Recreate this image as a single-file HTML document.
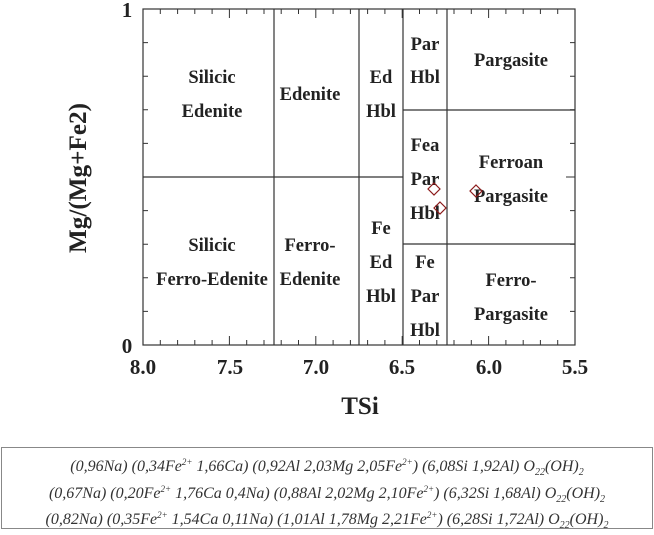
<!DOCTYPE html>
<html><head><style>
body{margin:0;background:#fff;width:654px;height:535px;overflow:hidden}
</style></head><body>
<svg width="654" height="535" xmlns="http://www.w3.org/2000/svg" style="position:absolute;left:0;top:0">
<g stroke="#333" stroke-width="1.2" fill="none">
<rect x="143" y="9" width="432" height="336"/>
<line x1="274" y1="9" x2="274" y2="345"/>
<line x1="359" y1="9" x2="359" y2="345"/>
<line x1="403" y1="9" x2="403" y2="345"/>
<line x1="447" y1="9" x2="447" y2="345"/>
<line x1="143" y1="177" x2="403" y2="177"/>
<line x1="403" y1="110" x2="575" y2="110"/>
<line x1="403" y1="244" x2="575" y2="244"/>
</g>
<g stroke="#333" stroke-width="1">
<path d="M160.3 9v5M177.6 9v5M194.8 9v5M212.1 9v5M229.4 9v9M246.7 9v5M264 9v5M281.2 9v5M298.5 9v5M315.8 9v9M333.1 9v5M350.4 9v5M367.6 9v5M384.9 9v5M402.2 9v9M419.5 9v5M436.8 9v5M454 9v5M471.3 9v5M488.6 9v9M505.9 9v5M523.2 9v5M540.4 9v5M557.7 9v5"/>
<path d="M160.3 345v-5M177.6 345v-5M194.8 345v-5M212.1 345v-5M229.4 345v-9M246.7 345v-5M264 345v-5M281.2 345v-5M298.5 345v-5M315.8 345v-9M333.1 345v-5M350.4 345v-5M367.6 345v-5M384.9 345v-5M402.2 345v-9M419.5 345v-5M436.8 345v-5M454 345v-5M471.3 345v-5M488.6 345v-9M505.9 345v-5M523.2 345v-5M540.4 345v-5M557.7 345v-5"/>
<path d="M143 42.6h5M143 76.2h5M143 109.8h5M143 143.4h5M143 177h9M143 210.6h5M143 244.2h5M143 277.8h5M143 311.4h5"/>
<path d="M575 42.6h-5M575 76.2h-5M575 109.8h-5M575 143.4h-5M575 177h-9M575 210.6h-5M575 244.2h-5M575 277.8h-5M575 311.4h-5"/>
</g>
<g font-family="Liberation Serif, serif" font-weight="bold" font-size="18.5" fill="#222" text-anchor="middle">
<text x="212" y="83">Silicic</text><text x="212" y="117">Edenite</text>
<text x="310" y="100">Edenite</text>
<text x="381" y="83">Ed</text><text x="381" y="117">Hbl</text>
<text x="425" y="50">Par</text><text x="425" y="83">Hbl</text>
<text x="511" y="66">Pargasite</text>
<text x="212" y="251">Silicic</text><text x="212" y="285">Ferro-Edenite</text>
<text x="310" y="251">Ferro-</text><text x="310" y="285">Edenite</text>
<text x="381" y="234">Fe</text><text x="381" y="268">Ed</text><text x="381" y="302">Hbl</text>
<text x="425" y="151">Fea</text><text x="425" y="185">Par</text><text x="425" y="219">Hbl</text>
<text x="511" y="168">Ferroan</text><text x="511" y="202">Pargasite</text>
<text x="425" y="268">Fe</text><text x="425" y="302">Par</text><text x="425" y="336">Hbl</text>
<text x="511" y="286">Ferro-</text><text x="511" y="320">Pargasite</text>
</g>
<g fill="none" stroke="#8b1a1a" stroke-width="1.2">
<path d="M434 183l6 6-6 6-6-6z"/>
<path d="M440 202l6 6-6 6-6-6z"/>
<path d="M476 185l6 6-6 6-6-6z"/>
</g>
<g font-family="Liberation Serif, serif" font-weight="bold" font-size="21" fill="#222" text-anchor="middle">
<text x="143" y="374">8.0</text><text x="230" y="374">7.5</text><text x="316" y="374">7.0</text>
<text x="402" y="374">6.5</text><text x="489" y="374">6.0</text><text x="575" y="374">5.5</text>
<text x="127" y="17">1</text><text x="127" y="353">0</text>
<text x="360" y="414" font-size="25">TSi</text>
<text transform="translate(86,178) rotate(-90)" font-size="25" textLength="150" lengthAdjust="spacingAndGlyphs">Mg/(Mg+Fe2)</text>
</g>
<rect x="1.5" y="447.5" width="651" height="81" fill="none" stroke="#888" stroke-width="1"/>
<g font-family="Liberation Serif, serif" font-style="italic" font-size="16" fill="#333" text-anchor="middle">
<text x="327" y="471">(0,96Na) (0,34Fe<tspan font-size="9" dy="-6">2+</tspan><tspan dy="6"> 1,66Ca) (0,92Al 2,03Mg 2,05Fe</tspan><tspan font-size="9" dy="-6">2+</tspan><tspan dy="6">) (6,08Si 1,92Al) O</tspan><tspan font-size="10" dy="4">22</tspan><tspan dy="-4">(OH)</tspan><tspan font-size="10" dy="4">2</tspan></text>
<text x="327" y="498">(0,67Na) (0,20Fe<tspan font-size="9" dy="-6">2+</tspan><tspan dy="6"> 1,76Ca 0,4Na) (0,88Al 2,02Mg 2,10Fe</tspan><tspan font-size="9" dy="-6">2+</tspan><tspan dy="6">) (6,32Si 1,68Al) O</tspan><tspan font-size="10" dy="4">22</tspan><tspan dy="-4">(OH)</tspan><tspan font-size="10" dy="4">2</tspan></text>
<text x="327" y="524">(0,82Na) (0,35Fe<tspan font-size="9" dy="-6">2+</tspan><tspan dy="6"> 1,54Ca 0,11Na) (1,01Al 1,78Mg 2,21Fe</tspan><tspan font-size="9" dy="-6">2+</tspan><tspan dy="6">) (6,28Si 1,72Al) O</tspan><tspan font-size="10" dy="4">22</tspan><tspan dy="-4">(OH)</tspan><tspan font-size="10" dy="4">2</tspan></text>
</g>
</svg>
</body></html>
